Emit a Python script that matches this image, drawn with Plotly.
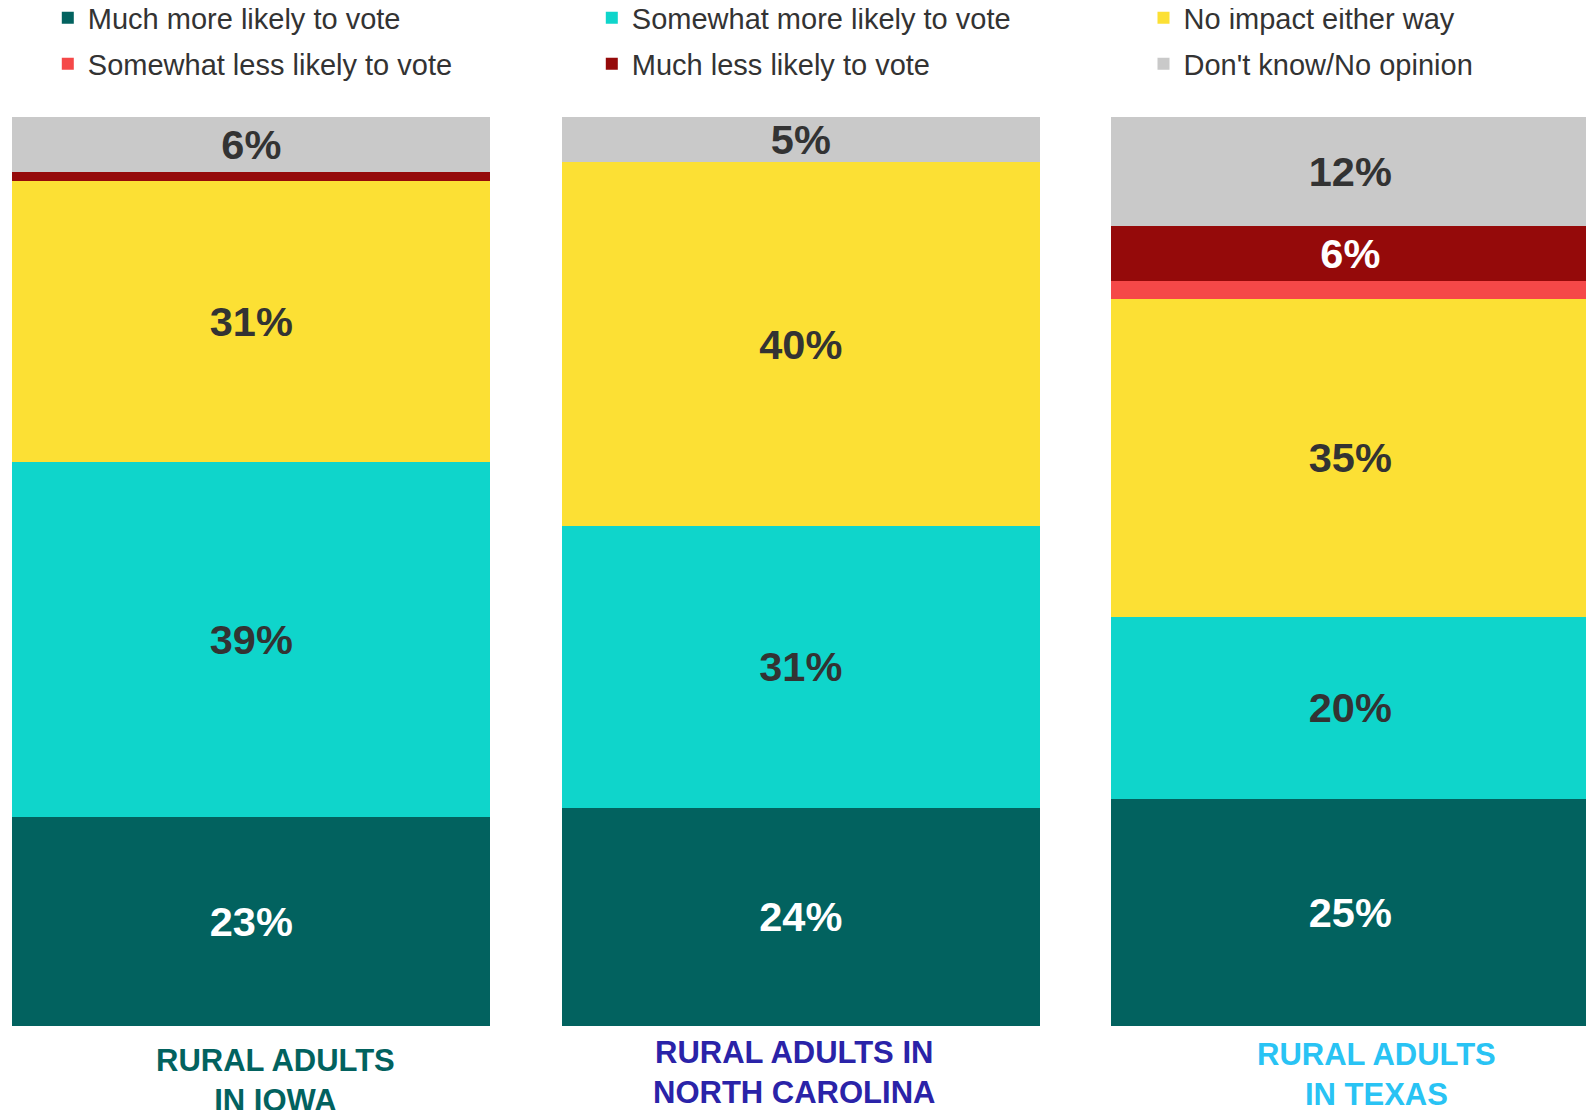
import plotly.graph_objects as go

categories = ["RURAL ADULTS<br>IN IOWA", "RURAL ADULTS IN<br>NORTH CAROLINA", "RURAL ADULTS<br>IN TEXAS"]
category_colors = ["#02625F", "#2A23A8", "#29C3F4"]

series_names = [
    "Much more likely to vote",
    "Somewhat more likely to vote",
    "No impact either way",
    "Somewhat less likely to vote",
    "Much less likely to vote",
    "Don't know/No opinion",
]
much_more = [23, 24, 25]
somewhat_more = [39, 31, 20]
no_impact = [31, 40, 35]
somewhat_less = [0, 0, 2]
much_less = [1, 0, 6]
dont_know = [6, 5, 12]

series_values = [much_more, somewhat_more, no_impact, somewhat_less, much_less, dont_know]
series_colors = ["#02625F", "#0FD5CB", "#FCE034", "#F54848", "#950A0A", "#C9C9C9"]
text_colors = ["#FFFFFF", "#333333", "#333333", "#FFFFFF", "#FFFFFF", "#333333"]

W, H = 1594, 1110
top_m, bot_m = 109, 92
plot_h = H - top_m - bot_m
slot = 549.5
first_center = 243.3
x_range = [-first_center / slot, (W - first_center) / slot]
bar_w = 478 / slot

xs = list(range(len(categories)))

# legend placement: one legend per item, 3 columns x 2 rows (pixels in figure)
legend_cols_px = [39.8, 583.8, 1135.5]
legend_rows_px = [9.8, 55.8]
legend_ids = ["legend", "legend2", "legend3", "legend4", "legend5", "legend6"]

fig = go.Figure()
for name, vals, col, tcol, lg in zip(series_names, series_values, series_colors, text_colors, legend_ids):
    fig.add_trace(go.Bar(
        x=xs, y=vals, name=name, width=bar_w,
        marker=dict(color=col, line=dict(width=0)),
        text=[f"{v}%" if v >= 5 else "" for v in vals],
        textposition="inside", insidetextanchor="middle",
        textfont=dict(family="Liberation Sans", size=41.5, color=tcol, weight="bold"),
        legend=lg, hoverinfo="skip",
    ))

label_xshift = [24, -6.5, 26]
label_yshift = [-54.3, -46.5, -48]
for i, (cat, c) in enumerate(zip(categories, category_colors)):
    fig.add_annotation(
        x=xs[i], y=0, xref="x", yref="paper", text=cat, showarrow=False,
        xanchor="center", yanchor="middle", xshift=label_xshift[i], yshift=label_yshift[i],
        font=dict(family="Liberation Sans", size=31, color=c, weight="bold"),
        align="center",
    )

legends = {}
for k, lg in enumerate(legend_ids):
    row, col = divmod(k, 3)
    legends[lg] = dict(
        orientation="h", xanchor="left", yanchor="middle",
        x=legend_cols_px[col] / W,
        y=1 + (top_m - legend_rows_px[row]) / plot_h,
        font=dict(family="Liberation Sans", size=29, color="#333333"),
        bgcolor="rgba(0,0,0,0)",
    )

fig.update_layout(
    width=W, height=H,
    margin=dict(l=0, r=0, t=top_m, b=bot_m, autoexpand=False),
    barmode="stack",
    plot_bgcolor="white", paper_bgcolor="white",
    xaxis=dict(range=x_range, showticklabels=False, showgrid=False, zeroline=False, showline=False, ticks=""),
    yaxis=dict(range=[0, 100], showticklabels=False, showgrid=False, zeroline=False, showline=False, ticks=""),
    uniformtext=dict(minsize=41.5, mode="show"),
    showlegend=True,
    **legends,
)

fig.write_html("out.html")
